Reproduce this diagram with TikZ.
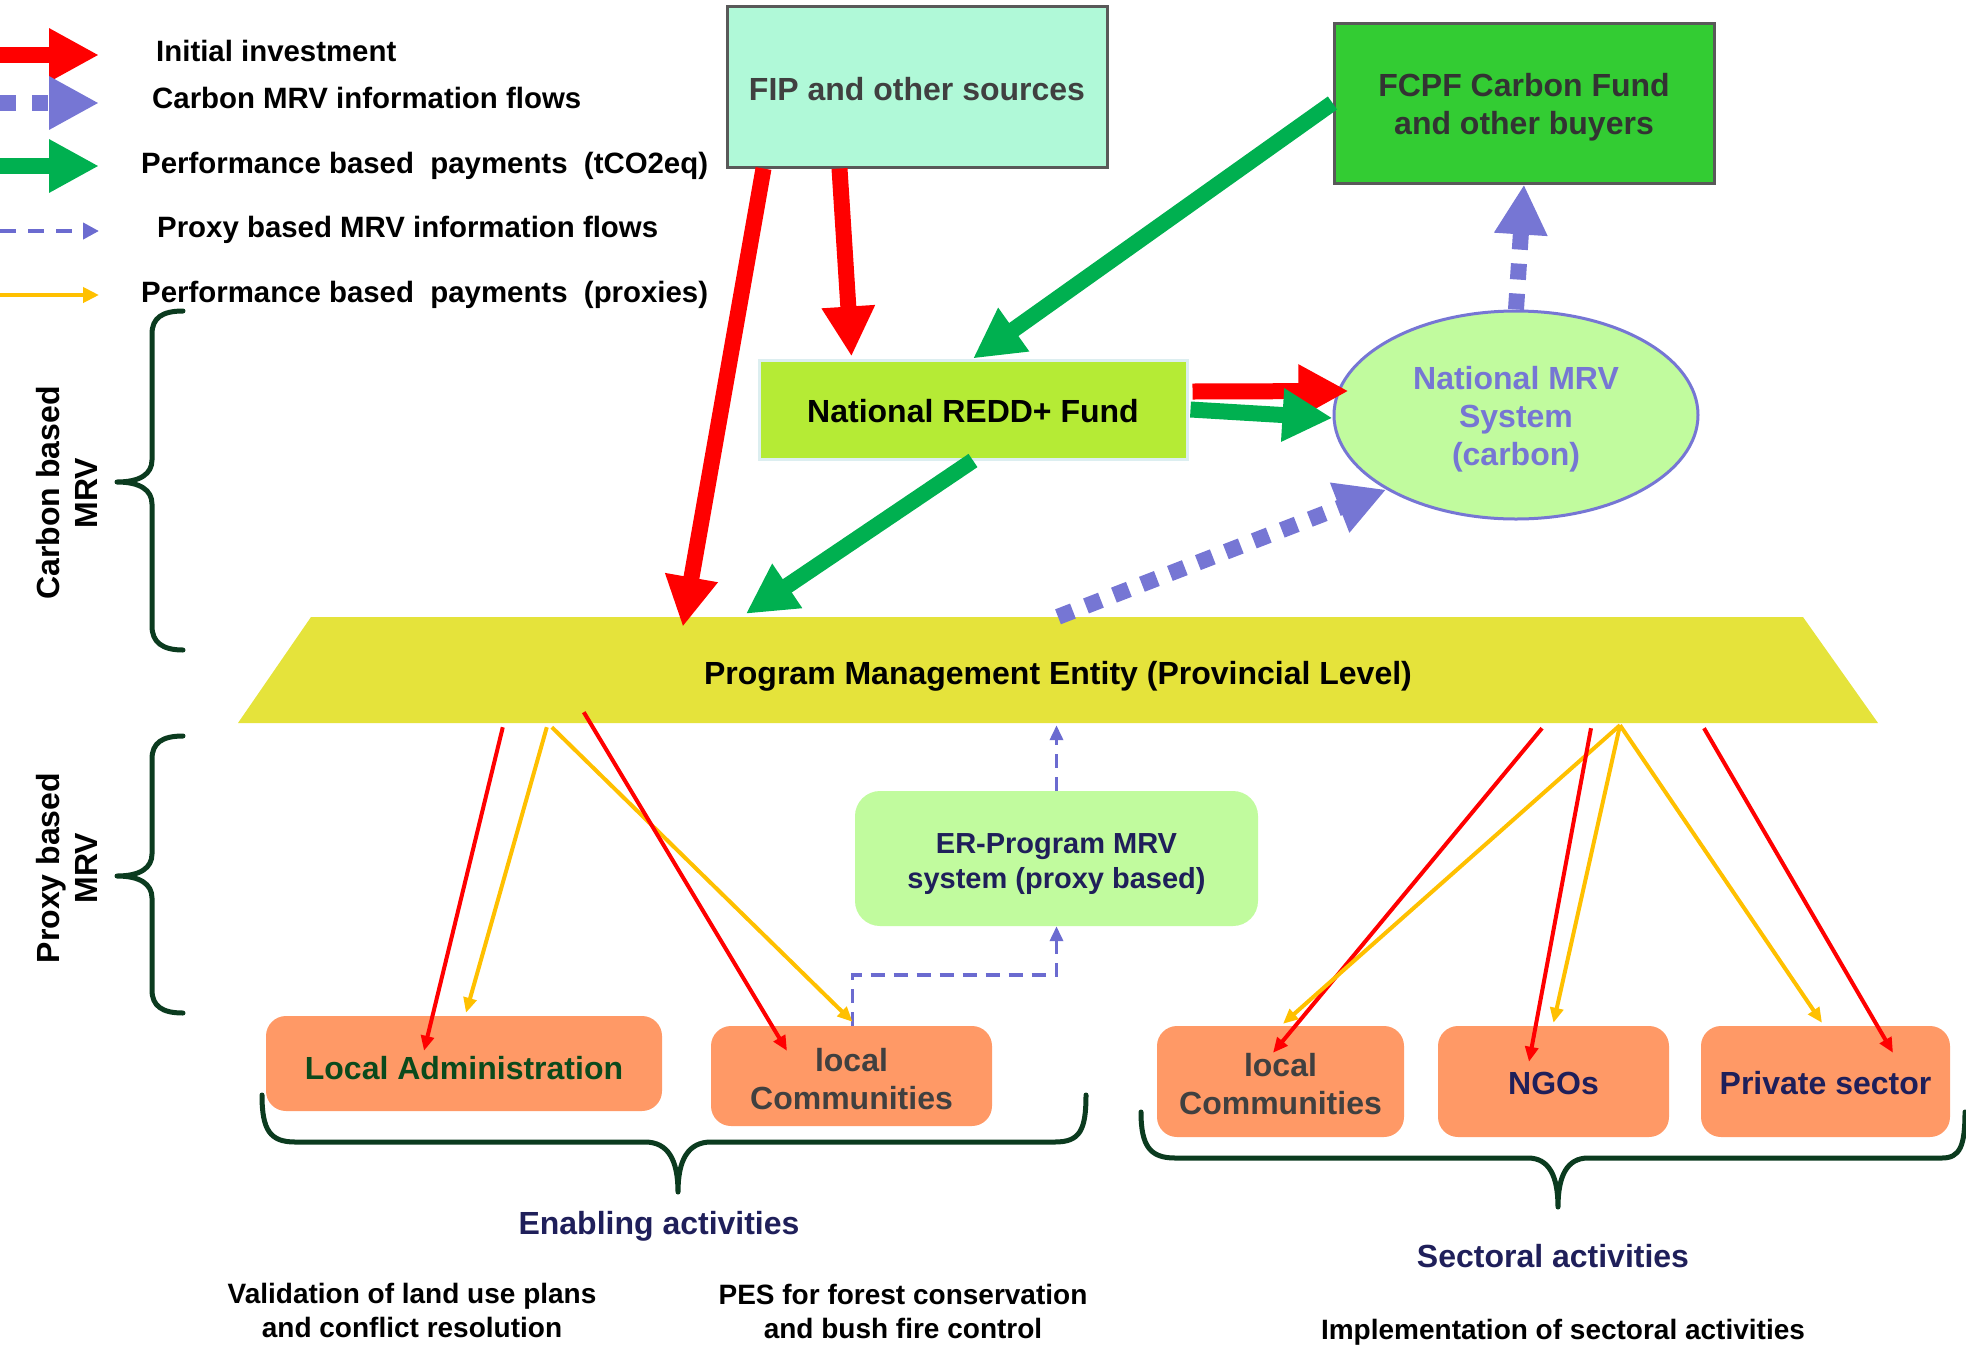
\documentclass[tikz,border=0pt]{standalone}
\usepackage{fontspec}
\setmainfont{Liberation Sans}
\usetikzlibrary{arrows.meta,calc,shapes.geometric}
\definecolor{redc}{HTML}{FF0000}
\definecolor{greenc}{HTML}{00B050}
\definecolor{bluec}{HTML}{7676D4}
\definecolor{pbluec}{HTML}{6B6BD0}
\definecolor{yelc}{HTML}{FFC000}
\definecolor{fipc}{HTML}{B0F9D8}
\definecolor{fcpfc}{HTML}{33CC33}
\definecolor{reddc}{HTML}{B5EB35}
\definecolor{mrvc}{HTML}{C1FB9E}
\definecolor{pmec}{HTML}{E5E33B}
\definecolor{salmon}{HTML}{FF9966}
\definecolor{bracec}{HTML}{0B3B1F}
\definecolor{navy}{HTML}{1F1F5A}
\definecolor{dgray}{HTML}{404040}
\definecolor{dgreen}{HTML}{0B4A1C}
\definecolor{boxborder}{HTML}{595959}
\definecolor{reddborder}{HTML}{DCEEF0}
\newcommand\FontBig{\fontsize{32}{38}\selectfont\bfseries}
\newcommand\FontLeg{\fontsize{29.4}{35}\selectfont\bfseries}
\newcommand\FontMid{\fontsize{29}{35}\selectfont\bfseries}
\newcommand\FontSm{\fontsize{28}{34}\selectfont\bfseries}
% lower a (possibly multi-line) text by #1 without changing its box
\newcommand\DnText[2]{\raisebox{-#1}[\height][\depth]{\begin{tabular}{@{}c@{}}#2\end{tabular}}}
\tikzset{
  bigred/.style={draw=redc, line width=16pt, -{Triangle[length=50pt,width=50pt]}},
  biggreen/.style={draw=greenc, line width=16pt, -{Triangle[length=50pt,width=50pt]}},
  bigblue/.style={draw=bluec, line width=16pt, dash pattern=on 16pt off 14pt, -{Triangle[length=50pt,width=50pt]}},
  thinred/.style={draw=redc, line width=4pt, -{Triangle[length=15pt,width=13pt]}},
  thinyel/.style={draw=yelc, line width=4pt, -{Triangle[length=15pt,width=13pt]}},
  proxyflow/.style={draw=pbluec, line width=3.5pt, dash pattern=on 14pt off 9pt, -{Triangle[length=15pt,width=13pt]}},
  bracepath/.style={draw=bracec, line width=5pt, line cap=round, line join=round},
  sqbox/.style={rectangle, inner sep=0pt, align=center},
  salbox/.style={rectangle, rounded corners=20pt, fill=salmon, inner sep=0pt, align=center},
  legtext/.style={anchor=base west, inner sep=0pt, font=\FontLeg},
}
\begin{document}
\begin{tikzpicture}[x=1pt,y=-1pt]
\useasboundingbox (0,0) rectangle (1966,1350);

% ---------- legend ----------
\coordinate (l1a) at (0,55);  \coordinate (l1b) at (99,55);
\coordinate (l2a) at (0,103); \coordinate (l2b) at (99,103);
\coordinate (l3a) at (0,166); \coordinate (l3b) at (99,166);
\coordinate (l4a) at (0,231); \coordinate (l4b) at (99,231);
\coordinate (l5a) at (0,295); \coordinate (l5b) at (99,295);
\draw[bigred] (l1a) -- (l1b);
\draw[bigblue, dash pattern=on 16pt off 16pt] (l2a) -- (l2b);
\draw[biggreen] (l3a) -- (l3b);
\draw[proxyflow, line width=4pt, dash pattern=on 16pt off 12pt, -{Triangle[length=16pt,width=16pt]}] (l4a) -- (l4b);
\draw[thinyel, line width=4pt, -{Triangle[length=16pt,width=15pt]}] (l5a) -- (l5b);
\node[legtext] (t1) at (156,61) {Initial investment};
\node[legtext] (t2) at (152,108) {Carbon MRV information flows};
\node[legtext] (t3) at (141,173) {Performance based~ payments~ (tCO2eq)};
\node[legtext] (t4) at (157,237) {Proxy based MRV information flows};
\node[legtext] (t5) at (141,302) {Performance based~ payments~ (proxies)};

% ---------- side braces ----------
\draw[bracepath] (183,311) .. controls (162,311) and (152,318) .. (152,334) -- (152,460)
  .. controls (152,474) and (140,482) .. (117,482)
  .. controls (140,482) and (152,490) .. (152,504) -- (152,626)
  .. controls (152,642) and (162,650) .. (183,650);
\draw[bracepath] (183,736) .. controls (162,736) and (152,743) .. (152,759) -- (152,854)
  .. controls (152,868) and (140,876) .. (117,876)
  .. controls (140,876) and (152,884) .. (152,898) -- (152,990)
  .. controls (152,1006) and (162,1013) .. (183,1013);
\node[rotate=90, align=center, font=\FontBig] (cbm) at (67,493) {Carbon based\\MRV};
\node[rotate=90, align=center, font=\FontBig] (pbm) at (67,868) {Proxy based\\MRV};

% ---------- main nodes ----------
\node[sqbox, fill=fipc, draw=boxborder, line width=3pt, minimum width=380pt, minimum height=161pt, text=dgray, font=\FontBig] (fip) at (917,86.5) {\DnText{6.4pt}{FIP and other sources}};
\node[sqbox, fill=fcpfc, draw=boxborder, line width=3pt, minimum width=380pt, minimum height=160pt, text=dgray!80!black, font=\FontBig] (fcpf) at (1524,103) {\DnText{5pt}{FCPF Carbon Fund\\and other buyers}};
\node[sqbox, fill=reddc, draw=reddborder, line width=3pt, minimum width=428pt, minimum height=99pt, font=\FontBig] (redd) at (973,409.5) {\DnText{4.9pt}{National REDD+ Fund}};
\node[ellipse, fill=mrvc, draw=bluec, line width=3pt, minimum width=364pt, minimum height=208pt, inner sep=0pt, align=center, text=bluec, font=\FontBig] (mrv) at (1516,415) {\DnText{5.3pt}{National MRV\\System\\(carbon)}};

\fill[pmec] (311,617) -- (1803,617) -- (1878,723) -- (238,723) -- cycle;
\node[sqbox, minimum width=1640pt, minimum height=106pt, font=\FontBig] (pme) at (1058,670) {\DnText{7pt}{Program Management Entity (Provincial Level)}};

\node[rectangle, rounded corners=25pt, fill=mrvc, minimum width=403pt, minimum height=135pt, inner sep=0pt, align=center, text=navy, font=\FontMid] (er) at (1056.5,858.5) {\DnText{5.5pt}{ER-Program MRV\\system (proxy based)}};

\node[salbox, minimum width=396pt, minimum height=95pt, text=dgreen, font=\FontBig] (la) at (464,1063.5) {\DnText{7.9pt}{Local Administration}};
\node[salbox, minimum width=281pt, minimum height=100pt, text=dgray, font=\FontBig] (lcl) at (851.5,1076) {\DnText{6.9pt}{local\\Communities}};
\node[salbox, minimum width=247pt, minimum height=111pt, text=dgray, font=\FontBig] (lcr) at (1280.5,1081.5) {\DnText{5.9pt}{local\\Communities}};
\node[salbox, minimum width=231pt, minimum height=111pt, text=navy, font=\FontBig] (ngo) at (1553.5,1081.5) {\DnText{4.9pt}{NGOs}};
\node[salbox, minimum width=249pt, minimum height=111pt, text=navy, font=\FontBig] (pri) at (1825.5,1081.5) {\DnText{4.9pt}{Private sector}};

% ---------- bottom braces and texts ----------
\draw[bracepath] (262,1095) .. controls (262,1130) and (270,1142) .. (295,1142) -- (645,1142)
  .. controls (668,1142) and (678,1160) .. (678,1192)
  .. controls (678,1160) and (688,1142) .. (711,1142) -- (1055,1142)
  .. controls (1080,1142) and (1086,1130) .. (1086,1095);
\draw[bracepath] (1141,1112) .. controls (1141,1146) and (1150,1158) .. (1175,1158) -- (1528,1158)
  .. controls (1549,1158) and (1558,1176) .. (1558,1207)
  .. controls (1558,1176) and (1567,1158) .. (1588,1158) -- (1942,1158)
  .. controls (1960,1158) and (1965,1146) .. (1965,1112);
\node[text=navy, font=\FontBig] (ena) at (659,1226) {Enabling activities};
\node[align=center, font=\FontSm] (val) at (412,1310) {Validation of land use plans\\and conflict resolution};
\node[align=center, font=\FontSm] (pes) at (903,1311) {PES for forest conservation\\and bush fire control};
\node[text=navy, font=\FontBig] (sec) at (1553,1256) {Sectoral activities};
\node[font=\FontSm] (imp) at (1563,1332) {Implementation of sectoral activities};

% ---------- thick connectors ----------
\draw[bigred] ($(fip.south west)+(114,0)$) -- ($(redd.north west)+(94,-2)$);
\draw[bigred] ($(fip.south west)+(38,0)$) -- ($(pme.north west)+(445,10)$);
\draw[bigred] ($(redd.east)+(4,-18)$) -- ($(mrv.west)+(16,-24)$);
\draw[biggreen] ($(redd.east)+(2,0)$) -- ($(mrv.west)+(0,3)$);
\draw[biggreen] (fcpf.west) -- (redd.north);
\draw[biggreen] (redd.south) -- ($(pme.north west)+(508,-3)$);
\draw[bigblue] (mrv.north) -- (fcpf.south);
\draw[bigblue] (pme.north) -- (mrv.south west);

% ---------- proxy MRV flows ----------
\draw[proxyflow] (er.north) -- ($(er.north |- pme.south)+(0,2)$);
\draw[proxyflow] ($(lcl.north)+(1,0)$) -- ++(0,-51) -| (er.south);

% ---------- thin payment flows ----------
\coordinate (hub) at ($(pme.south)+(562,2)$);
\draw[thinred] ($(pme.south west)+(265,4)$) -- ($(la.north)+(-40,35)$);
\draw[thinyel] ($(pme.south west)+(309,4)$) -- ($(la.north)+(2,-3)$);
\draw[thinyel] ($(pme.south west)+(314,4)$) -- ($(lcl.north)+(1,-4)$);
\draw[thinred] ($(pme.south west)+(346,-11)$) -- ($(lcl.north)+(-64.5,25)$);
\draw[thinred] ($(pme.south)+(484,5)$) -- ($(lcr.north)+(-7.5,27)$);
\draw[thinyel] (hub) -- ($(lcr.north)+(2.5,-2)$);
\draw[thinred] ($(pme.south)+(533,5)$) -- ($(ngo.north)+(-24.5,36)$);
\draw[thinyel] (hub) -- ($(ngo.north)+(0,-3)$);
\draw[thinyel] (hub) -- ($(pri.north)+(-3.5,-3)$);
\draw[thinred] ($(pme.south)+(646,5)$) -- ($(pri.north)+(67.5,27)$);
\end{tikzpicture}
\end{document}
